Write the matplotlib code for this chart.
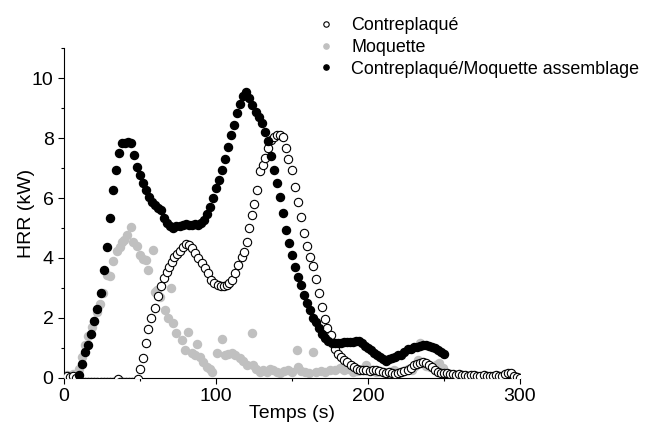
import matplotlib
matplotlib.use("Agg")
import matplotlib.pyplot as plt
from matplotlib.ticker import MultipleLocator

plt.rcParams["font.family"] = ["Liberation Sans", "DejaVu Sans"]

# Contreplaqué (open circles)
ply_t = [0, 2, 4, 6, 8, 10, 12, 14, 16, 18, 20, 22, 24, 26, 28, 30, 32, 34, 35.5, 37, 39, 41, 43, 45, 47, 48.5,
         50, 52, 54, 55.5, 57.2, 59.9, 62, 63.8, 65.8, 67.5, 69.2, 70.9, 72.5, 74.2, 76.4, 78.5, 80.5, 82, 84, 86,
         88.4, 90.6, 92.8, 95, 97, 99, 101, 103, 105, 107, 108.5, 110.3, 112.5, 114.7, 117, 118.5, 120.2, 121.5,
         123.5, 124.8, 127, 129, 131, 132.5, 134.3, 136.3, 138.3, 140, 142, 144, 145.8, 147.6, 149.8, 152, 154,
         155.8, 158, 160, 162, 164, 165.5, 167.5, 169.6, 171.5, 173.3, 175.4, 178.3, 180.5, 182.5, 184.5, 186.5,
         188.5, 190.5, 192.5, 195, 197, 199, 201, 203, 205, 207, 209.6, 212, 214, 216, 218, 220, 222, 224, 226,
         228, 230, 232, 234, 236, 238, 240, 242, 244, 246, 248, 250, 252, 254, 256, 258, 260, 262, 264, 266, 268,
         270, 272, 274, 276, 278, 280, 282, 284, 286, 288, 290, 292, 294, 296, 298, 300]
ply_hrr = [0.0, 0.05, 0.02, 0.06, 0.0, -0.15, -0.15, -0.15, -0.15, -0.15, -0.15, -0.15, -0.15, -0.15, -0.15,
           -0.15, -0.15, -0.12, -0.05, -0.12, -0.15, -0.15, -0.15, -0.15, -0.12, -0.05,
           0.29, 0.68, 1.18, 1.64, 1.99, 2.33, 2.73, 3.07, 3.32, 3.54, 3.71, 3.88, 4.02, 4.13, 4.24, 4.36, 4.45,
           4.43, 4.32, 4.16, 3.99, 3.82, 3.66, 3.49, 3.27, 3.16, 3.1, 3.06, 3.06, 3.1, 3.17, 3.27, 3.49, 3.77,
           4.04, 4.21, 4.54, 5.0, 5.43, 5.8, 6.27, 6.9, 7.1, 7.35, 7.68, 7.93, 8.04, 8.1, 8.1, 8.04, 7.66, 7.3,
           6.93, 6.36, 5.86, 5.35, 4.82, 4.39, 4.04, 3.73, 3.3, 2.82, 2.37, 1.98, 1.66, 1.43, 0.95, 0.8, 0.7,
           0.6, 0.52, 0.43, 0.35, 0.3, 0.27, 0.25, 0.27, 0.22, 0.27, 0.27, 0.24, 0.21, 0.18, 0.21, 0.16, 0.12,
           0.16, 0.2, 0.22, 0.28, 0.34, 0.42, 0.47, 0.5, 0.53, 0.5, 0.44, 0.35, 0.26, 0.2, 0.17, 0.15, 0.16,
           0.12, 0.14, 0.1, 0.12, 0.1, 0.1, 0.08, 0.1, 0.1, 0.08, 0.07, 0.1, 0.08, 0.06, 0.08, 0.1, 0.06, 0.08,
           0.12, 0.16, 0.15, 0.06, 0.02, 0.0]

# Moquette (grey dots)
carpet_t = [0, 2, 4, 6, 8, 10, 11.6, 13.8, 16, 18.2, 20, 22, 23.7, 25.9, 28, 30, 32, 34.6, 36.5, 38, 39.5, 41.2,
            43.9, 45.6, 48.2, 50, 52, 54, 55.5, 58.3, 59.9, 61, 63, 66.4, 68.6, 70.2, 72, 74, 77.4, 79.6, 81.8,
            83.9, 86, 87.3, 89.5, 91.7, 93.9, 96, 97.1, 100.4, 103.7, 105.9, 108, 110.3, 112.5, 115.8, 118, 120.2,
            123.5, 124.6, 126.5, 128.9, 131, 133.3, 135.5, 137.7, 140, 142, 145, 147.6, 150, 153.1, 154, 156,
            158.5, 161, 164, 166, 169, 172, 175, 178, 181.6, 184, 187, 190, 193, 196, 199, 202, 205, 208, 211,
            214, 217, 220, 223, 226, 229, 231, 233, 234, 236, 238, 241, 243, 245, 247, 249.6]
carpet_hrr = [0.05, 0.1, 0.08, 0.12, 0.1, 0.3, 0.7, 1.1, 1.4, 1.71, 1.9, 2.2, 2.45, 2.82, 3.43, 3.4, 3.91, 4.24,
              4.35, 4.54, 4.6, 4.77, 5.02, 4.54, 4.4, 4.1, 3.98, 3.93, 3.6, 4.27, 2.88, 2.93, 2.71, 2.27, 1.99,
              2.99, 1.84, 1.49, 1.27, 0.93, 1.54, 0.82, 0.77, 1.12, 0.71, 0.54, 0.38, 0.3, 0.21, 0.82, 1.29, 0.77,
              0.8, 0.82, 0.77, 0.66, 0.55, 0.43, 1.49, 0.43, 0.3, 0.21, 0.25, 0.21, 0.3, 0.27, 0.2, 0.16, 0.22,
              0.27, 0.2, 0.93, 0.38, 0.22, 0.2, 0.18, 0.88, 0.2, 0.22, 0.2, 0.25, 0.28, 0.32, 0.25, 0.3, 0.2,
              0.22, 0.3, 0.43, 0.25, 0.2, 0.22, 0.18, 0.21, 0.25, 0.2, 0.22, 0.3, 0.25, 0.4, 0.6, 1.16, 0.5, 0.4,
              0.35, 0.38, 0.43, 0.49, 0.32]

# Contreplaqué/Moquette assemblage (black dots)
asm_t = [10, 12, 14, 16, 18, 20, 22, 24, 26, 28, 30, 32, 34, 36, 38, 40, 42, 44, 46, 48, 50, 52, 54, 56, 58, 60,
         62, 64, 66, 68, 70, 72, 74, 76, 78, 80, 82, 84, 86, 88, 90, 92, 94, 96, 98, 100, 102, 104, 106, 108, 110,
         112, 114, 116, 118, 120, 122, 124, 126, 128, 130, 132, 134, 136, 138, 140, 142, 144, 146, 148, 150, 152,
         154, 156, 158, 160, 162, 164, 166, 168, 170, 172, 174, 176, 178, 180, 182, 184, 186, 188, 190, 192, 194,
         196, 198, 200, 202, 204, 206, 208, 210, 212, 214, 216, 218, 220, 222, 224, 226, 228, 230, 232, 234, 236,
         238, 240, 242, 244, 246, 248, 250]
asm_hrr = [0.1, 0.45, 0.88, 1.1, 1.48, 1.89, 2.31, 2.84, 3.6, 4.38, 5.34, 6.26, 6.93, 7.49, 7.82, 7.85, 7.86,
           7.82, 7.43, 7.04, 6.77, 6.49, 6.27, 6.02, 5.88, 5.77, 5.66, 5.6, 5.32, 5.16, 5.05, 5.0, 5.05, 5.07,
           5.1, 5.12, 5.1, 5.09, 5.12, 5.1, 5.15, 5.25, 5.45, 5.7, 5.99, 6.35, 6.6, 6.95, 7.3, 7.7, 8.1, 8.45,
           8.85, 9.15, 9.4, 9.55, 9.35, 9.1, 8.88, 8.7, 8.5, 8.21, 7.9, 7.4, 6.93, 6.5, 6.04, 5.5, 4.93, 4.49,
           4.1, 3.71, 3.38, 3.1, 2.77, 2.5, 2.25, 2.0, 1.85, 1.65, 1.47, 1.32, 1.22, 1.18, 1.18, 1.18, 1.18,
           1.19, 1.19, 1.19, 1.2, 1.22, 1.24, 1.15, 1.07, 1.0, 0.92, 0.83, 0.77, 0.7, 0.63, 0.58, 0.62, 0.66,
           0.7, 0.75, 0.78, 0.87, 0.95, 0.98, 1.02, 1.04, 1.06, 1.09, 1.1, 1.08, 1.04, 1.0, 0.93, 0.87, 0.8]

fig = plt.figure(figsize=(6.54, 4.26), dpi=100)
ax = fig.add_axes([0.0979, 0.1127, 0.6972, 0.7746])

ax.plot(carpet_t, carpet_hrr, "o", ms=5.8, color="#c0c0c0", mec="#c0c0c0", label="Moquette", zorder=2)
ax.plot(ply_t, ply_hrr, "o", ms=6.0, mfc="white", mec="black", mew=0.8, label="Contreplaqué", zorder=3)
ax.plot(asm_t, asm_hrr, "o", ms=5.8, color="black", label="Contreplaqué/Moquette assemblage", zorder=4)

ax.set_xlim(0, 300)
ax.set_ylim(0, 11)
ax.xaxis.set_major_locator(MultipleLocator(100))
ax.xaxis.set_minor_locator(MultipleLocator(50))
ax.yaxis.set_major_locator(MultipleLocator(2))
ax.yaxis.set_minor_locator(MultipleLocator(1))
ax.tick_params(which="major", direction="out", length=4.5, width=0.8, labelsize=14, pad=3)
ax.tick_params(which="minor", direction="out", length=2.5, width=0.8)
ax.spines["top"].set_visible(False)
ax.spines["right"].set_visible(False)
ax.set_xlabel("Temps (s)", fontsize=14, labelpad=0)
ax.set_ylabel("HRR (kW)", fontsize=14, labelpad=-2)

handles, labels = ax.get_legend_handles_labels()
order = [1, 0, 2]
fig.legend([handles[i] for i in order], [labels[i] for i in order],
           loc="upper left", bbox_to_anchor=(301 / 654, 0.997), frameon=False,
           fontsize=12.9, markerscale=0.65, handlelength=1.0, handletextpad=0.9,
           labelspacing=0.26, borderpad=0.4)

fig.savefig("out.png", dpi=100)
